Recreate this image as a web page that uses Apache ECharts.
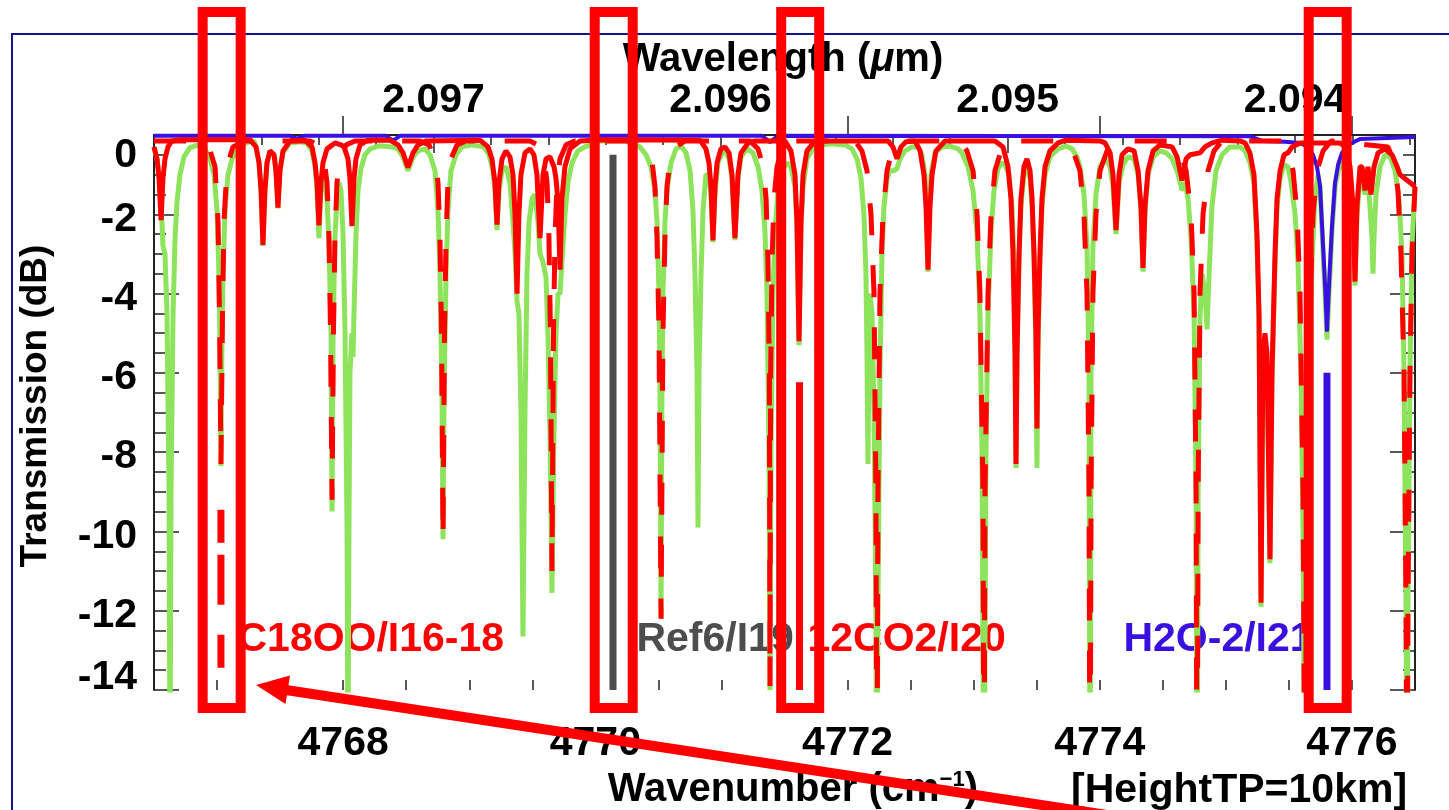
<!DOCTYPE html>
<html>
<head>
<meta charset="utf-8">
<title>Transmission spectrum</title>
<script src="https://cdn.jsdelivr.net/npm/echarts@6/dist/echarts.min.js"></script>
<style>
html, body { margin: 0; padding: 0; background: #fff; }
#chart { width: 1449px; height: 810px; }
</style>
</head>
<body>
<div id="chart"></div>
<script>
// Total atmospheric transmission [wavenumber cm^-1, dB]
const totalTransmission = [
[4766.500,-0.33],[4766.524,-0.6],[4766.548,-1.2],[4766.563,-2.2],[4766.571,-2.8],[4766.587,-3.0],[4766.603,-4.5],[4766.619,-9],[4766.627,-16],[4766.635,-9],[4766.651,-4.5],[4766.667,-2.6],[4766.682,-1.7],[4766.706,-1.0],[4766.738,-0.55],[4766.785,-0.32],[4766.849,-0.25],[4766.904,-0.35],[4766.944,-0.6],[4766.976,-1.0],[4767.000,-1.9],[4767.015,-3.5],[4767.023,-5.2],[4767.031,-8.35],[4767.039,-5.2],[4767.047,-3.5],[4767.063,-1.9],[4767.087,-1.0],[4767.119,-0.6],[4767.166,-0.35],[4767.230,-0.2],[4767.293,-0.15],[4767.309,-0.3],[4767.333,-0.7],[4767.349,-1.4],[4767.364,-2.8],[4767.380,-1.4],[4767.396,-0.7],[4767.420,-0.4],[4767.452,-0.5],[4767.467,-0.9],[4767.483,-1.85],[4767.499,-0.9],[4767.523,-0.45],[4767.578,-0.2],[4767.658,-0.17],[4767.713,-0.2],[4767.753,-0.4],[4767.777,-0.8],[4767.793,-1.4],[4767.808,-2.6],[4767.824,-1.4],[4767.848,-1.0],[4767.872,-1.6],[4767.888,-2.8],[4767.904,-5.0],[4767.912,-9.5],[4767.920,-5.0],[4767.935,-2.6],[4767.951,-1.6],[4767.967,-1.2],[4767.983,-1.4],[4767.999,-2.5],[4768.015,-5],[4768.031,-10],[4768.038,-16],[4768.046,-10],[4768.054,-6],[4768.070,-5.0],[4768.078,-5.6],[4768.086,-4.5],[4768.102,-2.5],[4768.118,-1.4],[4768.141,-0.85],[4768.173,-0.5],[4768.213,-0.35],[4768.292,-0.27],[4768.387,-0.3],[4768.435,-0.35],[4768.475,-0.55],[4768.514,-0.9],[4768.554,-0.55],[4768.594,-0.4],[4768.649,-0.35],[4768.689,-0.5],[4768.728,-0.9],[4768.752,-1.9],[4768.768,-3.5],[4768.784,-6.5],[4768.792,-10.2],[4768.800,-6.5],[4768.816,-3.5],[4768.831,-1.9],[4768.855,-0.9],[4768.895,-0.5],[4768.942,-0.3],[4769.022,-0.25],[4769.117,-0.3],[4769.157,-0.5],[4769.188,-0.9],[4769.204,-1.4],[4769.220,-2.4],[4769.236,-1.4],[4769.260,-0.9],[4769.291,-0.8],[4769.323,-1.2],[4769.347,-2.2],[4769.363,-3.0],[4769.379,-4.2],[4769.394,-4.5],[4769.410,-7],[4769.426,-12.65],[4769.442,-7],[4769.458,-3.5],[4769.474,-2.2],[4769.498,-1.6],[4769.521,-1.5],[4769.545,-2.2],[4769.561,-3.0],[4769.585,-3.2],[4769.609,-3.6],[4769.624,-5],[4769.640,-7.5],[4769.656,-11.55],[4769.672,-7.5],[4769.688,-5],[4769.704,-4.0],[4769.720,-4.0],[4769.735,-3.2],[4769.759,-2.0],[4769.783,-1.2],[4769.815,-0.7],[4769.862,-0.4],[4769.918,-0.3],[4769.997,-0.2],[4770.037,-0.15],[4770.235,-0.15],[4770.314,-0.25],[4770.354,-0.3],[4770.402,-0.5],[4770.441,-0.8],[4770.473,-1.4],[4770.489,-2.2],[4770.505,-4.0],[4770.513,-6.5],[4770.521,-12.2],[4770.528,-6.5],[4770.536,-4.0],[4770.552,-2.2],[4770.568,-1.4],[4770.600,-0.7],[4770.640,-0.35],[4770.679,-0.28],[4770.719,-0.45],[4770.751,-0.9],[4770.774,-1.9],[4770.790,-3.5],[4770.806,-6],[4770.814,-9.9],[4770.822,-6],[4770.838,-3.5],[4770.854,-1.9],[4770.877,-1.0],[4770.901,-1.0],[4770.917,-1.5],[4770.933,-2.7],[4770.949,-1.5],[4770.972,-0.7],[4771.004,-0.45],[4771.036,-0.45],[4771.060,-0.6],[4771.084,-1.1],[4771.107,-2.65],[4771.131,-1.1],[4771.155,-0.55],[4771.203,-0.35],[4771.250,-0.45],[4771.290,-0.8],[4771.321,-1.4],[4771.345,-2.4],[4771.361,-4],[4771.377,-8],[4771.385,-14.0],[4771.393,-8],[4771.409,-4],[4771.425,-2.4],[4771.448,-1.4],[4771.480,-0.9],[4771.520,-0.7],[4771.551,-0.8],[4771.583,-1.3],[4771.599,-2.3],[4771.615,-5.3],[4771.631,-2.3],[4771.647,-1.3],[4771.678,-0.6],[4771.726,-0.35],[4771.781,-0.25],[4771.861,-0.22],[4771.980,-0.25],[4772.035,-0.35],[4772.075,-0.6],[4772.107,-1.1],[4772.130,-2.0],[4772.146,-3.5],[4772.154,-5.5],[4772.162,-8.3],[4772.170,-5.5],[4772.178,-4.0],[4772.194,-4.5],[4772.210,-7],[4772.225,-12],[4772.233,-18],[4772.241,-12],[4772.257,-6],[4772.273,-3.0],[4772.289,-1.8],[4772.313,-1.1],[4772.336,-0.9],[4772.368,-0.9],[4772.392,-0.85],[4772.416,-0.6],[4772.455,-0.4],[4772.511,-0.3],[4772.559,-0.3],[4772.590,-0.5],[4772.614,-1.0],[4772.626,-1.8],[4772.638,-3.45],[4772.650,-1.8],[4772.662,-1.0],[4772.693,-0.45],[4772.749,-0.3],[4772.812,-0.28],[4772.876,-0.35],[4772.907,-0.45],[4772.955,-0.8],[4772.995,-1.4],[4773.027,-2.5],[4773.050,-4.5],[4773.066,-8],[4773.082,-18],[4773.098,-8],[4773.114,-4.5],[4773.138,-2.4],[4773.161,-1.4],[4773.193,-0.85],[4773.225,-0.7],[4773.249,-0.75],[4773.280,-1.0],[4773.304,-1.8],[4773.320,-3.2],[4773.328,-5.5],[4773.336,-8.4],[4773.344,-5.5],[4773.360,-3.1],[4773.375,-1.8],[4773.399,-1.0],[4773.423,-0.8],[4773.447,-1.1],[4773.463,-1.8],[4773.479,-3.2],[4773.494,-5.5],[4773.502,-8.4],[4773.510,-5.5],[4773.526,-3.1],[4773.542,-1.8],[4773.566,-1.0],[4773.605,-0.55],[4773.669,-0.35],[4773.732,-0.28],[4773.780,-0.35],[4773.819,-0.55],[4773.843,-0.8],[4773.875,-1.5],[4773.899,-2.8],[4773.915,-6],[4773.923,-18],[4773.931,-6],[4773.946,-2.8],[4773.970,-1.5],[4774.002,-0.8],[4774.042,-0.6],[4774.082,-0.8],[4774.105,-1.3],[4774.129,-2.5],[4774.153,-1.2],[4774.185,-0.75],[4774.224,-0.55],[4774.272,-0.6],[4774.304,-1.0],[4774.327,-1.9],[4774.343,-3.45],[4774.359,-1.9],[4774.383,-1.0],[4774.423,-0.55],[4774.478,-0.4],[4774.526,-0.45],[4774.574,-0.6],[4774.613,-0.9],[4774.653,-1.4],[4774.677,-1.2],[4774.700,-1.6],[4774.724,-2.6],[4774.748,-4.5],[4774.764,-9],[4774.772,-18],[4774.780,-9],[4774.795,-4.6],[4774.811,-3.5],[4774.835,-4.0],[4774.851,-4.9],[4774.867,-3.5],[4774.890,-1.8],[4774.922,-0.9],[4774.970,-0.5],[4775.033,-0.3],[4775.112,-0.3],[4775.152,-0.4],[4775.191,-0.7],[4775.223,-1.2],[4775.247,-2.7],[4775.263,-4.7],[4775.279,-11.9],[4775.294,-5.7],[4775.310,-5.2],[4775.326,-5.7],[4775.350,-10.8],[4775.366,-6.2],[4775.390,-3.2],[4775.406,-1.8],[4775.430,-1.1],[4775.461,-0.75],[4775.493,-0.8],[4775.517,-1.2],[4775.549,-2.0],[4775.572,-3.2],[4775.596,-6],[4775.612,-10],[4775.628,-18],[4775.644,-10],[4775.660,-6],[4775.683,-3.2],[4775.707,-1.6],[4775.731,-1.0],[4775.747,-1.3],[4775.763,-2.4],[4775.787,-4.0],[4775.802,-5.16],[4775.818,-4.0],[4775.842,-2.4],[4775.866,-1.3],[4775.890,-0.9],[4775.921,-0.7],[4775.953,-0.75],[4775.985,-1.2],[4776.009,-2.0],[4776.024,-3.8],[4776.040,-2.0],[4776.064,-1.1],[4776.088,-1.2],[4776.104,-1.5],[4776.127,-1.2],[4776.143,-1.8],[4776.159,-2.6],[4776.167,-3.5],[4776.175,-2.6],[4776.191,-1.5],[4776.223,-0.8],[4776.262,-0.5],[4776.302,-0.55],[4776.342,-0.9],[4776.373,-1.6],[4776.397,-3],[4776.413,-6],[4776.429,-12],[4776.437,-18],[4776.444,-12],[4776.460,-6],[4776.476,-2.8],[4776.500,-1.3]
];

// 12CO2 contribution (solid red)
const co2Main = [
[4766.500,-0.3],[4766.524,-0.6],[4766.540,-1.1],[4766.556,-2.15],[4766.571,-1.1],[4766.587,-0.6],[4766.611,-0.3],[4766.643,-0.15],[4766.706,-0.12],[4767.261,-0.12],[4767.309,-0.3],[4767.333,-0.7],[4767.349,-1.4],[4767.364,-2.77],[4767.380,-1.4],[4767.396,-0.7],[4767.420,-0.4],[4767.452,-0.5],[4767.467,-0.9],[4767.483,-1.83],[4767.499,-0.9],[4767.523,-0.4],[4767.578,-0.15],[4767.697,-0.13],[4767.753,-0.3],[4767.777,-0.7],[4767.793,-1.2],[4767.808,-2.28],[4767.824,-1.2],[4767.840,-0.7],[4767.872,-0.35],[4767.935,-0.2],[4767.983,-0.25],[4768.007,-0.3],[4768.038,-0.6],[4768.054,-1.1],[4768.070,-2.3],[4768.086,-1.1],[4768.102,-0.6],[4768.134,-0.25],[4768.197,-0.13],[4768.371,-0.13],[4768.435,-0.25],[4768.475,-0.45],[4768.514,-0.82],[4768.554,-0.45],[4768.594,-0.25],[4768.657,-0.15],[4769.085,-0.13],[4769.149,-0.3],[4769.180,-0.6],[4769.204,-1.2],[4769.220,-2.26],[4769.236,-1.2],[4769.260,-0.6],[4769.291,-0.4],[4769.323,-0.55],[4769.347,-1.0],[4769.363,-2.0],[4769.379,-4.0],[4769.394,-2.0],[4769.410,-1.0],[4769.442,-0.45],[4769.482,-0.35],[4769.513,-0.5],[4769.537,-1.0],[4769.561,-2.6],[4769.585,-1.0],[4769.609,-0.6],[4769.640,-0.55],[4769.672,-0.8],[4769.688,-1.1],[4769.704,-1.7],[4769.720,-3.4],[4769.735,-1.6],[4769.759,-0.8],[4769.799,-0.35],[4769.878,-0.15],[4770.037,-0.12],[4770.830,-0.13],[4770.877,-0.35],[4770.901,-0.7],[4770.917,-1.3],[4770.933,-2.66],[4770.949,-1.3],[4770.965,-0.7],[4770.996,-0.35],[4771.028,-0.3],[4771.060,-0.45],[4771.084,-1.0],[4771.107,-2.6],[4771.131,-1.0],[4771.155,-0.45],[4771.211,-0.2],[4771.266,-0.15],[4771.504,-0.15],[4771.551,-0.4],[4771.583,-1.0],[4771.599,-2.2],[4771.615,-5.2],[4771.631,-2.2],[4771.647,-1.0],[4771.678,-0.4],[4771.742,-0.15],[4772.321,-0.15],[4772.360,-0.3],[4772.392,-0.6],[4772.424,-0.3],[4772.463,-0.17],[4772.535,-0.15],[4772.575,-0.4],[4772.606,-1.0],[4772.622,-1.8],[4772.638,-3.4],[4772.654,-1.8],[4772.670,-1.0],[4772.701,-0.4],[4772.773,-0.15],[4773.169,-0.15],[4773.233,-0.3],[4773.272,-0.8],[4773.296,-1.6],[4773.312,-3.0],[4773.328,-5.5],[4773.336,-8.3],[4773.344,-5.5],[4773.360,-3.0],[4773.375,-1.6],[4773.399,-0.8],[4773.423,-0.6],[4773.447,-0.9],[4773.463,-1.6],[4773.479,-3.0],[4773.494,-5],[4773.502,-7.4],[4773.510,-5],[4773.526,-3],[4773.542,-1.6],[4773.566,-0.8],[4773.605,-0.4],[4773.669,-0.2],[4773.732,-0.13],[4774.002,-0.15],[4774.042,-0.2],[4774.082,-0.45],[4774.105,-1.0],[4774.129,-2.4],[4774.153,-1.0],[4774.177,-0.5],[4774.224,-0.35],[4774.272,-0.4],[4774.304,-0.9],[4774.327,-1.8],[4774.343,-3.35],[4774.359,-1.8],[4774.383,-0.9],[4774.423,-0.4],[4774.478,-0.25],[4774.574,-0.3],[4774.613,-0.55],[4774.653,-1.15],[4774.685,-0.6],[4774.716,-0.5],[4774.795,-0.45],[4774.835,-0.3],[4774.890,-0.2],[4774.970,-0.13],[4775.112,-0.15],[4775.152,-0.2],[4775.191,-0.45],[4775.223,-1.0],[4775.247,-2.5],[4775.263,-4.5],[4775.279,-11.8],[4775.294,-5.5],[4775.310,-5.0],[4775.326,-5.5],[4775.350,-10.7],[4775.366,-6],[4775.390,-3.0],[4775.406,-1.6],[4775.430,-0.9],[4775.461,-0.5],[4775.493,-0.45],[4775.525,-0.3],[4775.588,-0.2],[4775.905,-0.2],[4775.945,-0.3],[4775.985,-0.8],[4776.009,-1.8],[4776.024,-3.7],[4776.040,-1.8],[4776.064,-0.8],[4776.080,-0.8],[4776.104,-1.4],[4776.127,-0.8],[4776.151,-1.5],[4776.175,-0.8],[4776.207,-0.45],[4776.262,-0.35],[4776.318,-0.5],[4776.358,-0.8],[4776.381,-1.0],[4776.500,-1.3]
];

// C18OO isotopologue contribution (dashed red)
const c18ooIso = [
[4766.500,-0.15],[4766.865,-0.15],[4766.936,-0.3],[4766.984,-0.8],[4767.008,-2.2],[4767.019,-4.5],[4767.031,-8.3],[4767.043,-4.5],[4767.055,-2.2],[4767.079,-0.8],[4767.126,-0.3],[4767.222,-0.15],
[4767.737,-0.15],[4767.801,-0.25],[4767.848,-0.6],[4767.872,-1.2],[4767.888,-2.6],[4767.900,-5],[4767.912,-9.2],[4767.923,-5],[4767.935,-2.6],[4767.951,-1.2],[4767.975,-0.6],[4768.023,-0.25],[4768.094,-0.15],
[4768.609,-0.15],[4768.681,-0.25],[4768.728,-0.6],[4768.752,-1.2],[4768.768,-2.6],[4768.780,-5],[4768.792,-10.2],[4768.804,-5],[4768.816,-2.6],[4768.831,-1.2],[4768.855,-0.6],[4768.903,-0.25],[4768.974,-0.15],
[4769.482,-0.15],[4769.545,-0.25],[4769.593,-0.6],[4769.617,-1.2],[4769.632,-2.6],[4769.644,-5],[4769.656,-11.0],[4769.668,-5],[4769.680,-2.6],[4769.696,-1.2],[4769.720,-0.6],[4769.767,-0.25],[4769.838,-0.15],
[4770.354,-0.15],[4770.402,-0.3],[4770.449,-0.65],[4770.473,-1.3],[4770.489,-2.6],[4770.505,-5],[4770.521,-12.2],[4770.536,-5],[4770.552,-2.6],[4770.568,-1.3],[4770.592,-0.65],[4770.640,-0.3],[4770.711,-0.15],
[4771.227,-0.15],[4771.290,-0.35],[4771.330,-0.8],[4771.354,-1.6],[4771.369,-3.2],[4771.380,-6],[4771.385,-13.9],[4771.390,-6],[4771.401,-3.2],[4771.417,-1.6],[4771.441,-0.8],[4771.480,-0.35],[4771.544,-0.15],
[4772.059,-0.15],[4772.114,-0.4],[4772.154,-0.9],[4772.186,-2.0],[4772.210,-4.0],[4772.225,-9],[4772.233,-18],[4772.241,-9],[4772.257,-4.0],[4772.281,-2.0],[4772.313,-0.9],[4772.352,-0.4],[4772.416,-0.15],
[4772.892,-0.15],[4772.947,-0.4],[4772.995,-0.9],[4773.027,-2.0],[4773.050,-4.0],[4773.074,-9],[4773.082,-18],[4773.090,-9],[4773.114,-4.0],[4773.138,-2.0],[4773.169,-0.9],[4773.217,-0.4],[4773.272,-0.15],
[4773.732,-0.15],[4773.788,-0.4],[4773.843,-0.9],[4773.875,-2.0],[4773.899,-4.0],[4773.915,-9],[4773.923,-18],[4773.931,-9],[4773.946,-4.0],[4773.970,-2.0],[4774.002,-0.9],[4774.058,-0.4],[4774.113,-0.15],
[4774.574,-0.15],[4774.637,-0.4],[4774.685,-0.9],[4774.724,-2.0],[4774.748,-4.0],[4774.764,-9],[4774.772,-18],[4774.780,-9],[4774.795,-4.0],[4774.819,-2.0],[4774.859,-0.9],[4774.906,-0.4],[4774.970,-0.15],
[4775.446,-0.15],[4775.493,-0.4],[4775.533,-0.9],[4775.565,-2.0],[4775.588,-4.0],[4775.612,-9],[4775.628,-18],[4775.644,-9],[4775.668,-4.0],[4775.691,-2.0],[4775.723,-0.9],[4775.771,-0.4],[4775.834,-0.15],
[4776.286,-0.3],[4776.334,-0.7],[4776.365,-1.4],[4776.389,-3.0],[4776.413,-6],[4776.429,-12],[4776.437,-18],[4776.444,-12],[4776.460,-6],[4776.476,-3.0],[4776.500,-1.3]
];

// H2O contribution (blue)
const h2oLine = [
[4766.500,-0.02],[4767.578,-0.02],[4767.634,-0.09],[4767.690,-0.02],[4768.340,-0.02],[4768.395,-0.14],[4768.451,-0.02],
[4771.321,-0.02],[4771.385,-0.18],[4771.448,-0.02],[4775.191,-0.03],[4775.287,-0.15],[4775.469,-0.17],[4775.588,-0.2],
[4775.652,-0.3],[4775.691,-0.5],[4775.723,-0.8],[4775.747,-1.3],[4775.763,-2.3],[4775.787,-3.8],[4775.802,-4.96],
[4775.818,-3.8],[4775.842,-2.3],[4775.866,-1.2],[4775.890,-0.75],[4775.921,-0.45],[4775.969,-0.25],[4776.064,-0.1],[4776.500,-0.05]
];

// Laser channel markers
const markerNames = ['C18OO/I16-18', 'Ref6/I19', '12CO2/I20', 'H2O-2/I21'];
const markerWavenumber = [4767.031, 4770.140, 4771.619, 4775.802];
const markerTop = [-9.45, -0.5, -6.24, -6.0];
const markerColors = ['#ff0000', '#4d4d4d', '#ff0000', '#3a10e0'];
const markerDashed = [true, false, false, false];

// Channel label anchors (left edge of text)
const labelWavenumber = [4767.166, 4770.330, 4771.686, 4774.192];
const labelLevel = -12.74;

// Axis ticks
const wavenumberTicks = [4768, 4770, 4772, 4774, 4776];
const wavelengthTicks = [2.097, 2.096, 2.095, 2.094];
const WN_MIN = 4766.5, WN_MAX = 4776.5;

const FONT = '"Liberation Sans", Arial, Helvetica, sans-serif';
const GREEN = '#8ee35c', RED = '#ff0000', BLUE = '#3a10e0';

// minor tick positions
const wnMinor = [];
for (let v = 4767; v <= 4776.001; v += 0.5) wnMinor.push(+v.toFixed(2));
const wlMinor = [];
for (let k = 20936; k <= 20978; k += 2) {
  const wn = 1e4 / (k / 10000);
  if (wn > WN_MIN && wn < WN_MAX) wlMinor.push(wn);
}

const chart = echarts.init(document.getElementById('chart'), null, { renderer: 'canvas' });

const tickFont = { fontSize: 41, fontWeight: 'bold', fontFamily: FONT, color: '#000' };
const frameLine = { show: true, lineStyle: { color: '#222', width: 2 } };

const markerSeries = markerWavenumber.map((w, i) => ({
  type: 'line',
  name: markerNames[i] + ' marker',
  xAxisIndex: 0, yAxisIndex: 0,
  data: [[w, markerTop[i]], [w, -14]],
  symbol: 'none',
  z: 6,
  lineStyle: {
    color: markerColors[i], width: 7, cap: 'butt',
    type: markerDashed[i] ? [33, 12, 50, 30, 33, 40] : 'solid'
  }
}));

chart.setOption({
  animation: false,
  backgroundColor: '#fff',
  grid: { left: 154, top: 135, width: 1261, height: 555, containLabel: false },
  xAxis: [
    {
      type: 'value', position: 'bottom', min: WN_MIN, max: WN_MAX,
      axisLine: frameLine,
      axisTick: { show: true, inside: true, length: 19, customValues: wavenumberTicks, lineStyle: { color: '#222', width: 1.5 } },
      axisLabel: Object.assign({ customValues: wavenumberTicks, margin: 33, lineHeight: 41, formatter: v => String(v) }, tickFont),
      splitLine: { show: false }
    },
    {
      type: 'value', position: 'top', min: WN_MIN, max: WN_MAX,
      axisLine: frameLine,
      axisTick: { show: true, inside: true, length: 18, customValues: wavelengthTicks.map(l => 1e4 / l), lineStyle: { color: '#222', width: 1.5 } },
      axisLabel: Object.assign({ customValues: wavelengthTicks.map(l => 1e4 / l), margin: 14, lineHeight: 41, formatter: v => (1e4 / v).toFixed(3) }, tickFont),
      splitLine: { show: false }
    },
    {
      type: 'value', position: 'bottom', min: WN_MIN, max: WN_MAX,
      axisLine: { show: false },
      axisTick: { show: true, inside: true, length: 10, customValues: wnMinor, lineStyle: { color: '#222', width: 1.5 } },
      axisLabel: { show: false }, splitLine: { show: false }
    },
    {
      type: 'value', position: 'top', min: WN_MIN, max: WN_MAX,
      axisLine: { show: false },
      axisTick: { show: true, inside: true, length: 10, customValues: wlMinor, lineStyle: { color: '#222', width: 1.5 } },
      axisLabel: { show: false }, splitLine: { show: false }
    }
  ],
  yAxis: [
    {
      type: 'value', position: 'left', min: -14, max: 0, interval: 2,
      axisLine: frameLine,
      axisTick: { show: true, inside: true, length: 25, lineStyle: { color: '#222', width: 1.5 } },
      minorTick: { show: true, splitNumber: 4, length: 12, lineStyle: { color: '#222', width: 1.5 } },
      axisLabel: Object.assign({
        margin: 17,
        formatter: v => v === 0 ? '{top|0}' : (v === -14 ? '{low|-14}' : '{mid|' + v + '}'),
        rich: {
          top: Object.assign({ padding: [42, 0, 0, 0] }, tickFont),
          low: Object.assign({ padding: [0, 0, 25, 0] }, tickFont),
          mid: Object.assign({ padding: [10, 0, 0, 0] }, tickFont)
        }
      }, tickFont),
      splitLine: { show: false }
    },
    {
      type: 'value', position: 'right', min: -14, max: 0, interval: 2,
      axisLine: frameLine,
      axisTick: { show: true, inside: true, length: 25, lineStyle: { color: '#222', width: 1.5 } },
      minorTick: { show: true, splitNumber: 4, length: 12, lineStyle: { color: '#222', width: 1.5 } },
      axisLabel: { show: false },
      splitLine: { show: false }
    }
  ],
  series: [
    {
      type: 'scatter', name: 'channel labels', xAxisIndex: 0, yAxisIndex: 0,
      symbolSize: 1, z: 1, silent: true,
      itemStyle: { color: 'rgba(0,0,0,0)', opacity: 1 },
      data: labelWavenumber.map((w, i) => ({ name: markerNames[i], value: [w, labelLevel], label: { color: markerColors[i] } })),
      label: { show: true, position: [0, 0], align: 'left', verticalAlign: 'middle', formatter: p => p.name,
               opacity: 1, fontSize: 41, fontWeight: 'bold', fontFamily: FONT }
    },
    {
      type: 'line', name: 'Total', data: totalTransmission, xAxisIndex: 0, yAxisIndex: 0,
      symbol: 'none', z: 2, clip: true,
      lineStyle: { color: GREEN, width: 5, join: 'bevel' }
    },
    {
      type: 'line', name: 'H2O', data: h2oLine, xAxisIndex: 0, yAxisIndex: 0,
      symbol: 'none', z: 3, clip: true,
      lineStyle: { color: BLUE, width: 4, join: 'bevel' }
    },
    {
      type: 'line', name: '12CO2', data: co2Main, xAxisIndex: 0, yAxisIndex: 0,
      symbol: 'none', z: 4, clip: true,
      lineStyle: { color: RED, width: 5, join: 'bevel' }
    },
    {
      type: 'line', name: 'C18OO', data: c18ooIso, xAxisIndex: 0, yAxisIndex: 0,
      symbol: 'none', z: 5, clip: true,
      lineStyle: { color: RED, width: 5, type: [32, 30], join: 'bevel' }
    }
  ].concat(markerSeries)
});

// Annotations: frame, axis titles, highlight boxes around channels, arrow
const boxes = markerWavenumber.map(w => {
  const cx = chart.convertToPixel({ xAxisIndex: 0 }, w) + 0.7;
  return {
    type: 'rect', z: 100, silent: true,
    shape: { x: cx - 19, y: 12, width: 38, height: 696 },
    style: { fill: 'none', stroke: RED, lineWidth: 10 }
  };
});

const titleFont = { fontSize: 40, fontWeight: 'bold', fontFamily: FONT, fill: '#000' };

chart.setOption({
  graphic: [
    { type: 'rect', z: 0, silent: true, shape: { x: 12, y: 34, width: 1500, height: 900 },
      style: { fill: 'none', stroke: '#14148c', lineWidth: 2 } },
    { type: 'text', z: 0, x: 783, y: 60, silent: true,
      style: Object.assign({ text: 'Wavelength ({i|\u03bc}m)', align: 'center', verticalAlign: 'middle',
        rich: { i: { fontStyle: 'italic', fontSize: 40, fontWeight: 'bold', fontFamily: FONT, fill: '#000' } } }, titleFont) },
    { type: 'text', z: 0, x: 36, y: 406, rotation: Math.PI / 2, silent: true,
      style: Object.assign({}, titleFont, { text: 'Transmission (dB)', align: 'center', verticalAlign: 'middle', fontSize: 37 }) },
    { type: 'text', z: 0, x: 978, y: 790, silent: true,
      style: Object.assign({ text: 'Wavenumber (cm{s|\u22121})', align: 'right', verticalAlign: 'middle',
        rich: { s: { fontSize: 22, fontWeight: 'bold', fontFamily: FONT, fill: '#000', padding: [0, 0, 20, 0] } } }, titleFont) },
    { type: 'text', z: 0, x: 1071, y: 791, silent: true,
      style: Object.assign({}, titleFont, { text: '[HeightTP=10km]', align: 'left', verticalAlign: 'middle', fontSize: 41 }) }
  ].concat(boxes).concat([
    { type: 'line', z: 100, silent: true, shape: { x1: 286, y1: 690, x2: 1140, y2: 820 },
      style: { stroke: RED, lineWidth: 10 } },
    { type: 'polygon', z: 100, silent: true, shape: { points: [[256, 685], [290, 675.5], [285.5, 704]] },
      style: { fill: RED } }
  ])
});
</script>
</body>
</html>
